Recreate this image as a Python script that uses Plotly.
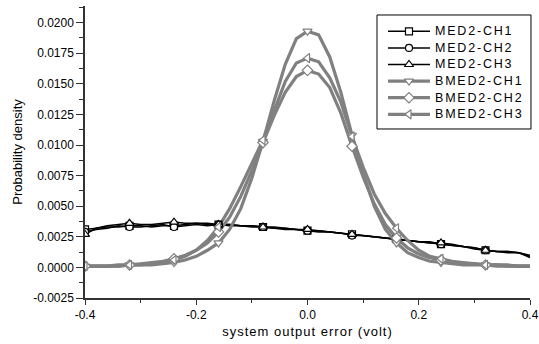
import plotly.graph_objects as go

x = [round(-0.40 + 0.02 * i, 2) for i in range(41)]

med2_ch1 = [0.0031, 0.0032, 0.0033, 0.0033, 0.0034, 0.0034, 0.0033, 0.0034, 0.0034, 0.0035,
            0.0036, 0.0035, 0.0035, 0.0035, 0.0034, 0.0034, 0.0033, 0.0033, 0.0032, 0.0031,
            0.0030, 0.0030, 0.0029, 0.0028, 0.0027, 0.0026, 0.0025, 0.0024, 0.0023, 0.0022,
            0.0021, 0.0020, 0.0019, 0.0018, 0.0017, 0.0015, 0.0014, 0.0013, 0.0013, 0.0012, 0.0009]
med2_ch2 = [0.0029, 0.0031, 0.0032, 0.0034, 0.0033, 0.0033, 0.0034, 0.0035, 0.0033, 0.0034,
            0.0035, 0.0034, 0.0035, 0.0034, 0.0034, 0.0033, 0.0033, 0.0032, 0.0032, 0.0031,
            0.0030, 0.0029, 0.0029, 0.0028, 0.0026, 0.0026, 0.0025, 0.0024, 0.0023, 0.0022,
            0.0021, 0.0021, 0.0019, 0.0018, 0.0017, 0.0016, 0.0014, 0.0013, 0.0012, 0.0012, 0.0010]
med2_ch3 = [0.0027, 0.0032, 0.0034, 0.0035, 0.0036, 0.0035, 0.0035, 0.0036, 0.0037, 0.0036,
            0.0036, 0.0036, 0.0035, 0.0035, 0.0034, 0.0034, 0.0033, 0.0032, 0.0031, 0.0031,
            0.0031, 0.0030, 0.0029, 0.0028, 0.0027, 0.0026, 0.0025, 0.0024, 0.0023, 0.0022,
            0.0021, 0.0020, 0.0020, 0.0019, 0.0017, 0.0016, 0.0014, 0.0013, 0.0013, 0.0012, 0.0008]
bmed2_ch1 = [0.0001, 0.0001, 0.0001, 0.0001, 0.0002, 0.0002, 0.0002, 0.0003, 0.0004, 0.0006,
             0.0009, 0.0014, 0.0020, 0.0031, 0.0048, 0.0073, 0.0103, 0.0136, 0.0166, 0.0187,
             0.0193, 0.0190, 0.0172, 0.0143, 0.0108, 0.0077, 0.0050, 0.0031, 0.0020, 0.0012,
             0.0008, 0.0005, 0.0004, 0.0003, 0.0002, 0.0002, 0.0002, 0.0001, 0.0001, 0.0001, 0.0001]
bmed2_ch2 = [0.0001, 0.0001, 0.0001, 0.0002, 0.0002, 0.0003, 0.0004, 0.0005, 0.0007, 0.0010,
             0.0014, 0.0020, 0.0029, 0.0041, 0.0058, 0.0079, 0.0102, 0.0124, 0.0143, 0.0156,
             0.0161, 0.0158, 0.0147, 0.0126, 0.0099, 0.0074, 0.0052, 0.0035, 0.0024, 0.0016,
             0.0011, 0.0008, 0.0006, 0.0004, 0.0003, 0.0003, 0.0002, 0.0002, 0.0002, 0.0001, 0.0001]
bmed2_ch3 = [0.0001, 0.0001, 0.0001, 0.0001, 0.0002, 0.0002, 0.0003, 0.0004, 0.0006, 0.0009,
             0.0014, 0.0022, 0.0033, 0.0048, 0.0066, 0.0085, 0.0104, 0.0128, 0.0152, 0.0167,
             0.0171, 0.0168, 0.0155, 0.0135, 0.0107, 0.0082, 0.0060, 0.0044, 0.0032, 0.0022,
             0.0014, 0.0009, 0.0007, 0.0005, 0.0004, 0.0003, 0.0002, 0.0002, 0.0001, 0.0001, 0.0001]

names = ["MED2-CH1", "MED2-CH2", "MED2-CH3", "BMED2-CH1", "BMED2-CH2", "BMED2-CH3"]
series = [med2_ch1, med2_ch2, med2_ch3, bmed2_ch1, bmed2_ch2, bmed2_ch3]

x_tickvals = [-0.4, -0.2, 0.0, 0.2, 0.4]
x_ticktext = ["-0.4", "-0.2", "0.0", "0.2", "0.4"]
y_tickvals = [-0.0025, 0.0, 0.0025, 0.005, 0.0075, 0.01, 0.0125, 0.015, 0.0175, 0.02]
y_ticktext = ["-0.0025", "0.0000", "0.0025", "0.0050", "0.0075", "0.0100",
              "0.0125", "0.0150", "0.0175", "0.0200"]

symbols = ["square", "circle", "triangle-up", "triangle-down", "diamond", "triangle-left"]
colors = ["#000000"] * 3 + ["#808080"] * 3
widths = [1.5] * 3 + [3.2] * 3
msizes = [7, 7, 8, 8, 8, 8]
FONT = "Liberation Sans, Arial, sans-serif"

fig = go.Figure()
# curves
for n, ys, c, w in zip(names, series, colors, widths):
    fig.add_trace(go.Scatter(x=x, y=ys, mode="lines", line=dict(color=c, width=w),
                             name=n, showlegend=False, hoverinfo="skip"))
# markers every 0.08
for n, ys, c, s, ms in zip(names, series, colors, symbols, msizes):
    fig.add_trace(go.Scatter(x=x[0:40:4], y=ys[0:40:4], mode="markers",
                             marker=dict(symbol=s, size=ms, color="white",
                                         line=dict(color=c, width=1.2)),
                             showlegend=False, hoverinfo="skip"))

# legend drawn on a small helper axis pair (rows 0..5)
rows = list(range(len(names)))
for r, c, w, s, ms in zip(rows, colors, widths, symbols, msizes):
    fig.add_trace(go.Scatter(x=[0, 1], y=[r, r], mode="lines", line=dict(color=c, width=w),
                             xaxis="x2", yaxis="y2", showlegend=False, hoverinfo="skip"))
    fig.add_trace(go.Scatter(x=[0.5], y=[r], mode="markers",
                             marker=dict(symbol=s, size=ms, color="white", line=dict(color=c, width=1.2)),
                             xaxis="x2", yaxis="y2", showlegend=False, hoverinfo="skip"))
    fig.add_annotation(x=0.782, y=r, xref="paper", yref="y2", xanchor="left", yanchor="middle",
                       showarrow=False,
                       text='<span style="letter-spacing:1.8px">%s</span>' % names[r],
                       font=dict(family=FONT, size=12.5, color="#000"))

fig.add_shape(type="rect", xref="paper", yref="paper", x0=0.6562, x1=1.0022, y0=0.5788, y1=0.9692,
              line=dict(color="#000", width=1), fillcolor="white", layer="below")

axis_common = dict(showline=True, linecolor="#333333", linewidth=1.5, ticks="outside",
                   tickwidth=1.3, tickcolor="#333333", showgrid=False, zeroline=False,
                   mirror=False, automargin=False,
                   tickfont=dict(family=FONT, size=12, color="#000"))

fig.update_layout(
    width=539, height=344, autosize=False,
    margin=dict(l=85, r=9, t=6, b=46),
    paper_bgcolor="white", plot_bgcolor="white",
    font=dict(family=FONT, color="#000"),
    xaxis=dict(range=[-0.4, 0.4], tickmode="array", tickvals=x_tickvals, ticktext=x_ticktext,
               ticklen=5,
               minor=dict(dtick=0.1, tick0=-0.4, ticks="outside", ticklen=3, tickcolor="#333333",
                          tickwidth=1.3),
               title=dict(text='<span style="letter-spacing:1px">system output error (volt)</span>',
                          font=dict(size=13), standoff=6),
               **axis_common),
    yaxis=dict(range=[-0.0025, 0.02136], tickmode="array", tickvals=y_tickvals, ticktext=y_ticktext,
               ticklen=7,
               minor=dict(dtick=0.00125, tick0=-0.0025, ticks="outside", ticklen=4,
                          tickcolor="#333333", tickwidth=1.3),
               title=dict(text="Probability density", font=dict(size=13), standoff=8),
               **axis_common),
    xaxis2=dict(domain=[0.6809, 0.7753], range=[0, 1], visible=False, anchor="y2", fixedrange=True),
    yaxis2=dict(domain=[0.6007, 0.9418], range=[5.5, -0.5], visible=False, anchor="x2", fixedrange=True),
    showlegend=False,
)

fig.write_html("out.html",
               config={"responsive": False, "displayModeBar": False},
               post_script="document.body.style.margin='0';document.body.style.overflow='hidden';")
